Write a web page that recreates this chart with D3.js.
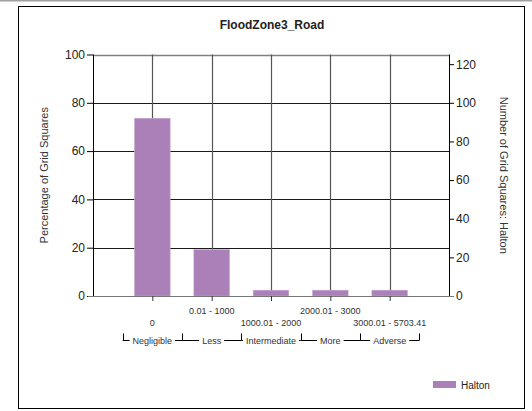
<!DOCTYPE html>
<html><head><meta charset="utf-8">
<script src="https://cdn.jsdelivr.net/npm/d3@7"></script>
<style>body{margin:0;background:#fff}svg{display:block}text{font-family:Arial,"Liberation Sans",sans-serif}</style>
</head><body><svg id="c" width="532" height="411"></svg>
<script>
const title = "FloodZone3_Road";
const categories = ["0", "0.01 - 1000", "1000.01 - 2000", "2000.01 - 3000", "3000.01 - 5703.41"];
const groups = ["Negligible", "Less", "Intermediate", "More", "Adverse"];
const seriesName = "Halton";
const percentValues = [73.6, 19.2, 2.4, 2.4, 2.4];
const countTotal = 125;
const leftTicks = [0, 20, 40, 60, 80, 100];
const rightTicks = [0, 20, 40, 60, 80, 100, 120];

const svg = d3.select("#c");
const color = "#ab7fb8";
const L = 93, R = 449, T = 54.5, B = 296;
svg.append("line").attr("x1",0).attr("x2",532).attr("y1",0.5).attr("y2",0.5).attr("stroke","#a0a0a0").attr("stroke-width",2);
svg.append("rect").attr("x",18.5).attr("y",6.5).attr("width",506).attr("height",402).attr("fill","#fff").attr("stroke","#000").attr("stroke-width",1);

const x = d3.scaleLinear().domain([0, categories.length + 1]).range([L, R]);
const y = d3.scaleLinear().domain([0, 100]).range([B, T]);
const y2 = d3.scaleLinear().domain([0, countTotal]).range([B, T]);
const step = x(1) - x(0);
const bw = step * 0.6;

svg.append("g").selectAll("line").data(leftTicks).join("line")
  .attr("x1", L).attr("x2", R).attr("y1", d => Math.round(y(d)) + 0.5).attr("y2", d => Math.round(y(d)) + 0.5)
  .attr("stroke", d => d === 100 ? "#808080" : "#1a1a1a").attr("stroke-width", d => d===100?1.5:1);
svg.append("g").selectAll("line").data(categories).join("line")
  .attr("x1", (d,i) => Math.round(x(i+1)) + 0.5).attr("x2", (d,i) => Math.round(x(i+1)) + 0.5)
  .attr("y1", T).attr("y2", B).attr("stroke", "#555").attr("stroke-width", 1.2);

svg.append("g").selectAll("rect").data(percentValues).join("rect")
  .attr("x", (d,i) => x(i+1) - bw/2).attr("width", bw)
  .attr("y", d => y(d)).attr("height", d => B - y(d))
  .attr("fill", color).attr("stroke", "#c6a8d0").attr("stroke-width", 0.6);

const gl = svg.append("g").attr("transform", `translate(${L},0)`)
  .call(d3.axisLeft(y).tickValues(leftTicks).tickSize(6).tickPadding(2).tickFormat(d3.format("d")));
gl.select(".domain").attr("stroke", "#000").attr("d", `M0.5,${T}V${B}`);
gl.selectAll(".tick line").attr("stroke", "#000");
gl.selectAll("text").attr("font-size", 12).attr("fill", "#222");

const gr = svg.append("g").attr("transform", `translate(${R},0)`)
  .call(d3.axisRight(y2).tickValues(rightTicks).tickSize(5).tickPadding(2).tickFormat(d3.format("d")));
gr.select(".domain").attr("stroke", "#000").attr("d", `M0.5,${T}V${B}`);
gr.selectAll(".tick line").attr("stroke", "#000");
gr.selectAll("text").attr("font-size", 12).attr("fill", "#222");

svg.append("line").attr("x1", L-5).attr("x2", R+5).attr("y1", B+0.5).attr("y2", B+0.5).attr("stroke", "#777").attr("stroke-width",1.2);
const gb = svg.append("g").attr("transform", `translate(0,${B})`)
  .call(d3.axisBottom(x).tickValues(categories.map((d,i)=>i+1)).tickSize(5).tickFormat((d) => ""));
gb.select(".domain").remove();
gb.selectAll(".tick line").attr("stroke", "#333");
svg.append("g").selectAll("text").data(categories).join("text")
  .attr("x", (d,i) => x(i+1)).attr("y", (d,i) => i % 2 === 1 ? 314 : 326)
  .attr("text-anchor", "middle").attr("font-size", 9).attr("fill", "#333").text(d => d);

const by = 340.5;
const bg = svg.append("g");
groups.forEach((g, i) => {
  const a = x(i + 0.5), b = x(i + 1.5), c = x(i + 1);
  const t = bg.append("text").attr("x", c).attr("y", by + 3).attr("text-anchor","middle")
    .attr("font-size", 9).attr("fill", "#333").text(g);
  const w = t.node().getComputedTextLength();
  bg.append("line").attr("x1", a).attr("x2", c - w/2 - 3).attr("y1", by).attr("y2", by).attr("stroke", "#000");
  bg.append("line").attr("x1", c + w/2 + 3).attr("x2", b).attr("y1", by).attr("y2", by).attr("stroke", "#000");
  bg.append("line").attr("x1", Math.round(a)+0.5).attr("x2", Math.round(a)+0.5).attr("y1", by - 7).attr("y2", by).attr("stroke", "#000");
  if (i === groups.length - 1)
    bg.append("line").attr("x1", Math.round(b)+0.5).attr("x2", Math.round(b)+0.5).attr("y1", by - 7).attr("y2", by).attr("stroke", "#000");
});

svg.append("text").attr("x", 272).attr("y", 29).attr("text-anchor","middle").attr("font-size", 12).attr("font-weight","bold").attr("fill","#222").text(title);
svg.append("text").attr("transform", `translate(48,${(T+B)/2}) rotate(-90)`).attr("text-anchor","middle").attr("font-size", 11).attr("fill","#333").text("Percentage of Grid Squares");
svg.append("text").attr("transform", `translate(500,${(T+B)/2}) rotate(90)`).attr("text-anchor","middle").attr("font-size", 11).attr("fill","#333").text("Number of Grid Squares: Halton");

svg.append("rect").attr("x", 433).attr("y", 381).attr("width", 23).attr("height", 7).attr("fill", color);
svg.append("text").attr("x", 461).attr("y", 388.5).attr("font-size", 10).attr("fill","#222").text(seriesName);
</script></body></html>
